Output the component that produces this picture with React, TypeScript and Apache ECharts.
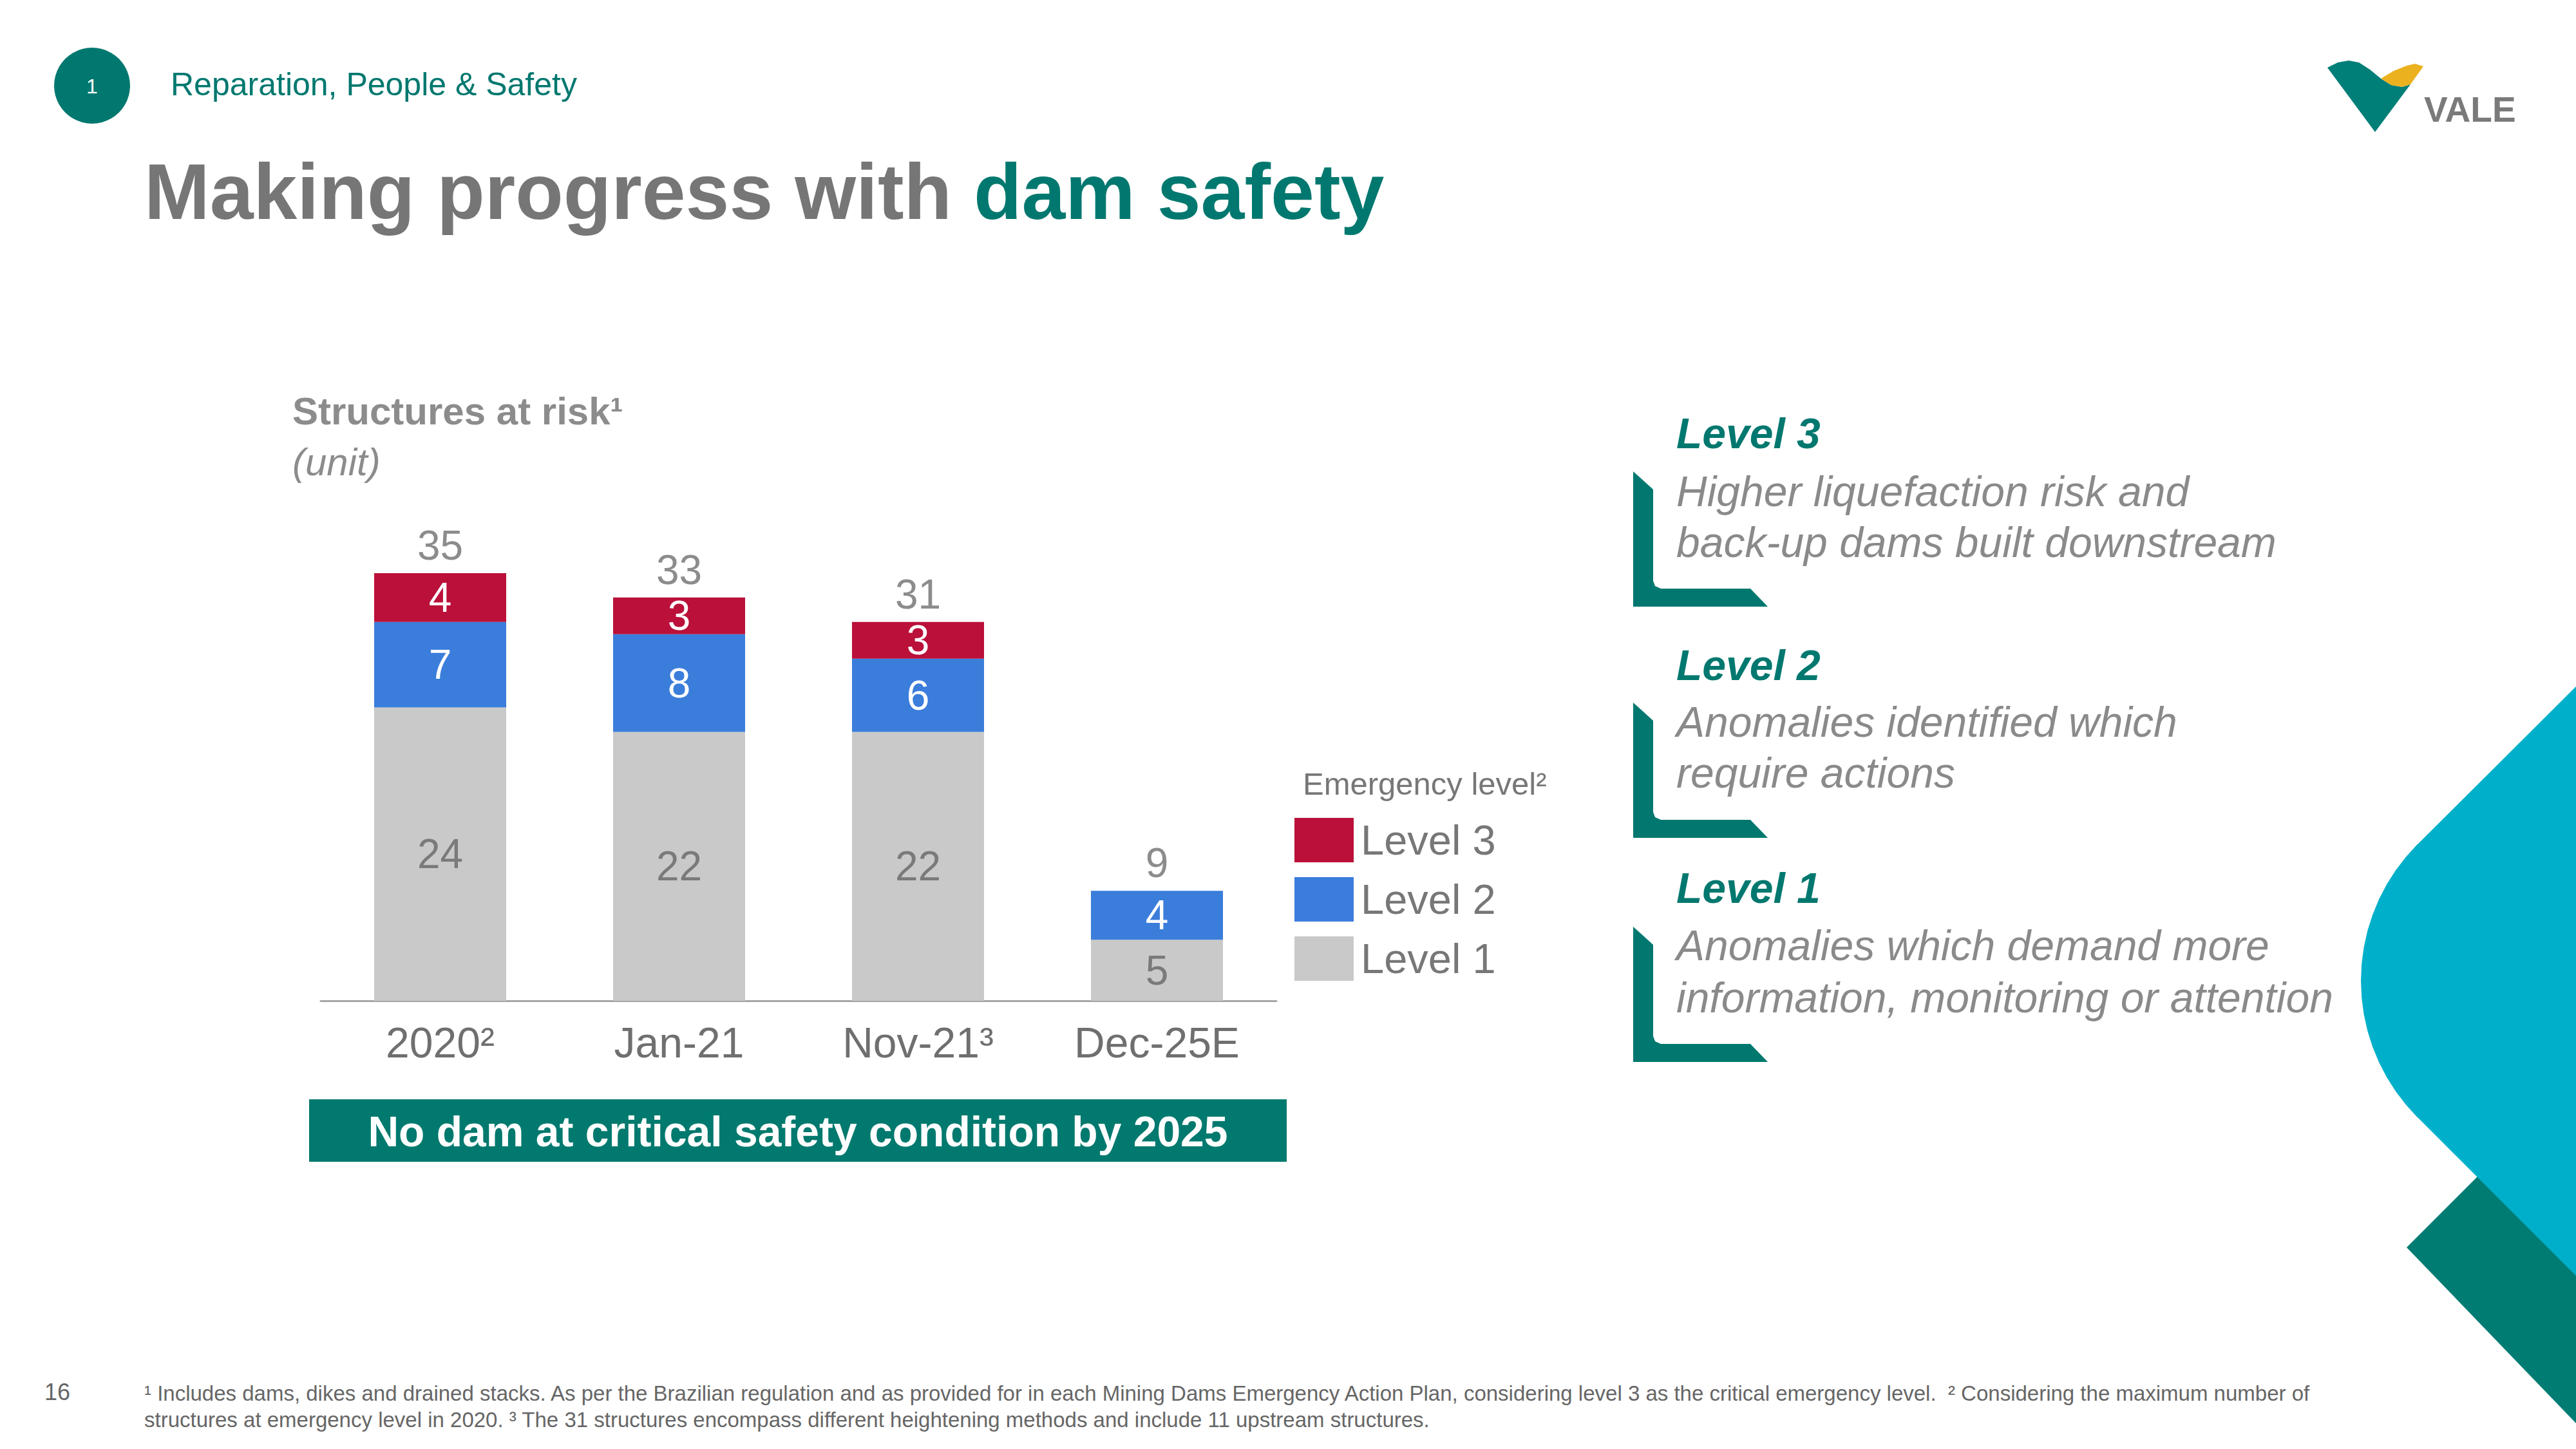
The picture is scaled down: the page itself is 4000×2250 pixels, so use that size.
import React, { useEffect, useRef } from "react";
import * as echarts from "echarts";

const categories = ["2020²", "Jan-21", "Nov-21³", "Dec-25E"];
const level1 = [24, 22, 22, 5];
const level2 = [7, 8, 6, 4];
const level3 = [4, 3, 3, 0];
const totals = categories.map((_, i) => level1[i] + level2[i] + level3[i]);
const legendOrder = ["Level 3", "Level 2", "Level 1"];

const FONT = "'Liberation Sans', Arial, sans-serif";
const TEAL = "#00786F";
const GRAY_TITLE = "#767676";
const GRAY_TEXT = "#8a8a8a";
const C_L1 = "#C9C9C9";
const C_L2 = "#3B7DDB";
const C_L3 = "#BA1039";

function bracket(top: number) {
  const h = 210;
  const bottom = top + h;
  return {
    type: "polygon",
    shape: {
      points: [
        [2536, top],
        [2567, top + 28],
        [2567, bottom - 40],
        [2570, bottom - 32],
        [2579, bottom - 28],
        [2718, bottom - 28],
        [2745, bottom],
        [2536, bottom],
      ],
    },
    style: { fill: TEAL },
  };
}

function cyanShape() {
  const pts: number[][] = [[4000, 1066], [3754, 1311]];
  const cx = 3966, cy = 1523, r = 300;
  for (let a = 225; a >= 135; a -= 5) {
    const t = (a * Math.PI) / 180;
    pts.push([cx + r * Math.cos(t), cy + r * Math.sin(t)]);
  }
  pts.push([3754, 1735], [4000, 1981]);
  return { type: "polygon", shape: { points: pts }, style: { fill: "#00B0CA" }, z: 2 };
}

function txt(x: number, y: number, text: string, size: number, color: string, extra: any = {}) {
  return {
    type: "text",
    x,
    y,
    style: {
      text,
      fontSize: size,
      fill: color,
      fontFamily: FONT,
      verticalAlign: "middle",
      align: "left",
      ...extra,
    },
  };
}

export default function App() {
  const ref = useRef<HTMLDivElement>(null);
  useEffect(() => {
    if (!ref.current) return;
    const chart = echarts.init(ref.current, null, { renderer: "svg" });
    const labelFmt = (p: any) => (p.value ? String(p.value) : "");
    const option: any = {
      animation: false,
      backgroundColor: "#ffffff",
      textStyle: { fontFamily: FONT },
      grid: { left: 498, width: 1484, top: 795, height: 759 },
      xAxis: {
        type: "category",
        data: categories,
        axisLine: { show: true, lineStyle: { color: "#a6a6a6", width: 3 } },
        axisTick: { show: false },
        axisLabel: { fontSize: 66, color: "#6f6f6f", margin: 32, fontFamily: FONT },
      },
      yAxis: { type: "value", min: 0, max: 40, show: false, splitLine: { show: false } },
      legend: {
        data: legendOrder,
        orient: "vertical",
        left: 2010,
        top: 1270,
        itemWidth: 92,
        itemHeight: 69,
        itemGap: 23,
        padding: 0,
        icon: "rect",
        selectedMode: false,
        textStyle: { fontSize: 65, color: "#777777", fontFamily: FONT, padding: [0, 0, 0, 6] },
      },
      series: [
        {
          name: "Level 1",
          type: "bar",
          stack: "s",
          barWidth: 205,
          data: level1,
          itemStyle: { color: C_L1 },
          label: { show: true, position: "inside", color: "#7a7a7a", fontSize: 64, fontFamily: FONT, formatter: labelFmt },
        },
        {
          name: "Level 2",
          type: "bar",
          stack: "s",
          barWidth: 205,
          data: level2,
          itemStyle: { color: C_L2 },
          label: { show: true, position: "inside", color: "#ffffff", fontSize: 64, fontFamily: FONT, formatter: labelFmt },
        },
        {
          name: "Level 3",
          type: "bar",
          stack: "s",
          barWidth: 205,
          data: level3,
          itemStyle: { color: C_L3 },
          label: { show: true, position: "inside", color: "#ffffff", fontSize: 64, fontFamily: FONT, formatter: labelFmt },
        },
        {
          name: "Total",
          type: "scatter",
          data: totals,
          symbol: "circle",
          symbolSize: 2,
          itemStyle: { color: "rgba(255,255,255,0)" },
          silent: true,
          label: { show: true, position: "top", distance: 10, color: "#6f6f6f", fontSize: 64, fontFamily: FONT },
        },
      ],
      graphic: [
        { type: "circle", shape: { cx: 143, cy: 133, r: 59 }, style: { fill: TEAL } },
        txt(143, 134, "1", 32, "#ffffff", { align: "center" }),
        txt(265, 131, "Reparation, People & Safety", 50, TEAL),
        {
          type: "text",
          x: 224,
          y: 298,
          style: {
            text: "{a|Making progress with }{b|dam safety}",
            verticalAlign: "middle",
            rich: {
              a: { fontSize: 122, fontWeight: "bold", fill: GRAY_TITLE, fontFamily: FONT },
              b: { fontSize: 122, fontWeight: "bold", fill: TEAL, fontFamily: FONT },
            },
          },
        },
        {
          type: "polygon",
          shape: {
            points: [
              [3614, 105], [3630, 97], [3647, 94], [3663, 97], [3680, 108], [3697, 122],
              [3713, 132], [3730, 135], [3743, 131], [3688, 205],
            ],
          },
          style: { fill: "#007E78" },
        },
        {
          type: "polygon",
          shape: {
            points: [
              [3697, 122], [3717, 110], [3737, 102], [3750, 99], [3763, 103], [3743, 131],
              [3730, 135], [3713, 132],
            ],
          },
          style: { fill: "#ECB11F" },
        },
        txt(3764, 170, "VALE", 55, "#7a7a7a", { fontWeight: "bold" }),
        txt(454, 638, "Structures at risk¹", 60, "#8c8c8c", { fontWeight: "bold" }),
        txt(454, 717, "(unit)", 60, "#8c8c8c", { fontStyle: "italic" }),
        txt(2023, 1217, "Emergency level²", 49, "#777777"),
        { type: "rect", shape: { x: 480, y: 1707, width: 1518, height: 97 }, style: { fill: "#01796E" } },
        txt(1239, 1757, "No dam at critical safety condition by 2025", 66, "#ffffff", { align: "center", fontWeight: "bold" }),
        bracket(732),
        bracket(1091),
        bracket(1439),
        txt(2603, 673, "Level 3", 66, TEAL, { fontWeight: "bold", fontStyle: "italic" }),
        txt(2603, 763, "Higher liquefaction risk and", 66, GRAY_TEXT, { fontStyle: "italic" }),
        txt(2603, 842, "back-up dams built downstream", 66, GRAY_TEXT, { fontStyle: "italic" }),
        txt(2603, 1033, "Level 2", 66, TEAL, { fontWeight: "bold", fontStyle: "italic" }),
        txt(2603, 1121, "Anomalies identified which", 66, GRAY_TEXT, { fontStyle: "italic" }),
        txt(2603, 1200, "require actions", 66, GRAY_TEXT, { fontStyle: "italic" }),
        txt(2603, 1379, "Level 1", 66, TEAL, { fontWeight: "bold", fontStyle: "italic" }),
        txt(2603, 1468, "Anomalies which demand more", 66, GRAY_TEXT, { fontStyle: "italic" }),
        txt(2603, 1549, "information, monitoring or attention", 66, GRAY_TEXT, { fontStyle: "italic" }),
        { type: "polygon", shape: { points: [[3737, 1937], [4000, 1674], [4000, 2210]] }, style: { fill: "#007C73" }, z: 1 },
        cyanShape(),
        txt(69, 2161, "16", 36, "#666666"),
        txt(
          224,
          2163,
          "¹ Includes dams, dikes and drained stacks. As per the Brazilian regulation and as provided for in each Mining Dams Emergency Action Plan, considering level 3 as the critical emergency level.  ² Considering the maximum number of",
          33,
          "#666666"
        ),
        txt(
          224,
          2204,
          "structures at emergency level in 2020. ³ The 31 structures encompass different heightening methods and include 11 upstream structures.",
          33,
          "#666666"
        ),
      ],
    };
    chart.setOption(option);
    return () => chart.dispose();
  }, []);
  return <div ref={ref} style={{ position: "absolute", left: 0, top: 0, width: 4000, height: 2250 }} />;
}
